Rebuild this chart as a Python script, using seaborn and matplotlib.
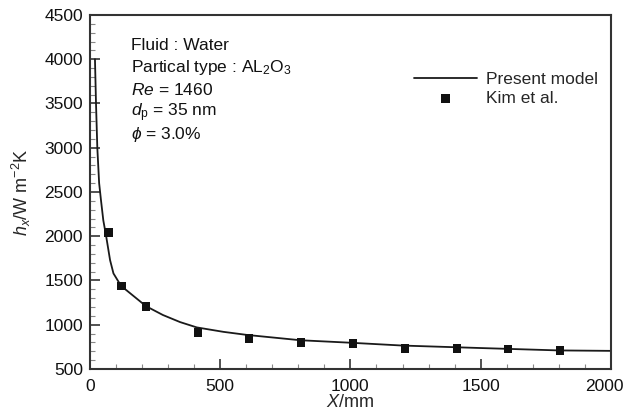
import matplotlib
matplotlib.use("Agg")
import matplotlib.pyplot as plt
import matplotlib.transforms as mtransforms
from matplotlib.ticker import MultipleLocator
import seaborn as sns
import pandas as pd

# Present model (continuous curve)
model_x = [19, 23, 28, 35, 42, 51, 62, 77, 90, 119, 215, 280, 346, 410, 512, 603, 808, 1000, 1200, 1500, 1800, 2000]
model_h = [4000, 3500, 3000, 2600, 2410, 2180, 2000, 1730, 1580, 1440, 1210, 1110, 1030, 970, 920, 885, 825, 797, 765, 737, 710, 705]

# Kim et al. experimental points
kim_x = [70, 120, 215, 415, 610, 810, 1010, 1210, 1410, 1605, 1805]
kim_h = [2040, 1440, 1205, 915, 842, 801, 790, 730, 730, 728, 707]

sns.set_style("ticks")
plt.rcParams["font.family"] = ["Liberation Sans", "DejaVu Sans"]
plt.rcParams["mathtext.fontset"] = "custom"
plt.rcParams["mathtext.rm"] = "Liberation Sans"
plt.rcParams["mathtext.it"] = "Liberation Sans:italic"
plt.rcParams["mathtext.bf"] = "Liberation Sans:bold"

fig = plt.figure(figsize=(6.26, 4.19), dpi=100)
ax = fig.add_axes([0.1438, 0.1193, 0.832, 0.845])

model = pd.DataFrame({"x": model_x, "h": model_h})
kim = pd.DataFrame({"x": kim_x, "h": kim_h})

sns.lineplot(data=model, x="x", y="h", ax=ax, color="#1a1a1a", linewidth=1.3,
             label="Present model", sort=False)
sns.scatterplot(data=kim, x="x", y="h", ax=ax, color="#111111", marker="s", s=38,
                edgecolor="none", label="Kim et al.", zorder=3)

ax.set_xlim(0, 2000)
ax.set_ylim(500, 4500)
ax.xaxis.set_major_locator(MultipleLocator(500))
ax.xaxis.set_minor_locator(MultipleLocator(100))
ax.yaxis.set_major_locator(MultipleLocator(500))
ax.yaxis.set_minor_locator(MultipleLocator(100))
ax.tick_params(which="major", direction="in", length=7, width=1.2, labelsize=12.5,
               color="#333333", pad=5, labelcolor="#111111")
ax.tick_params(which="major", axis="x", pad=7)
ax.tick_params(which="minor", direction="in", length=3.5, width=0.8, color="#888888")
for s in ax.spines.values():
    s.set_linewidth(1.5)
    s.set_color("#333333")

ax.set_xlabel("$X$/mm", fontsize=13, labelpad=0)
ax.set_ylabel("$h_x$/W m$^{-2}$K", fontsize=13, labelpad=8)

# keep the last x tick label inside the canvas
fig.canvas.draw()
shift = mtransforms.ScaledTranslation(-6 / 100, 0, fig.dpi_scale_trans)
last_tick = ax.xaxis.get_major_ticks()[-1]
for t in ax.xaxis.get_major_ticks():
    if abs(t.get_loc() - 2000) < 1e-6:
        last_tick = t
last_tick.label1.set_transform(last_tick.label1.get_transform() + shift)

info = ["Fluid : Water",
        "Partical type : AL$_2$O$_3$",
        "$Re$ = 1460",
        "$d_\\mathrm{p}$ = 35 nm",
        "$\\phi$ = 3.0%"]
for i, t in enumerate(info):
    ax.text(0.079, 0.915 - i * 0.0635, t, transform=ax.transAxes, fontsize=12.5,
            va="center", ha="left", color="#111111")

leg = ax.legend(loc="upper right", bbox_to_anchor=(0.988, 0.858), frameon=False,
                fontsize=12.5, handlelength=3.6, handletextpad=0.5,
                labelspacing=0.2, borderaxespad=0)

fig.savefig("out.png", dpi=100)
